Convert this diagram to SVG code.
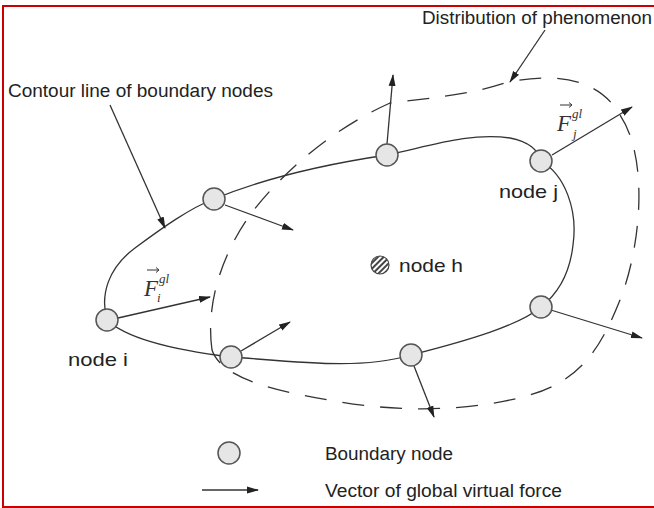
<svg xmlns="http://www.w3.org/2000/svg" width="654" height="508" viewBox="0 0 654 508">
<style>
.t{font-family:"Liberation Sans",Arial,sans-serif;font-size:18px;fill:#222}
.nl{font-family:"Liberation Sans",Arial,sans-serif;font-size:19px;fill:#222}
.n{fill:#e6e6e6;stroke:#555;stroke-width:1.5}
.c{fill:none;stroke:#333;stroke-width:1.3}
.d{fill:none;stroke:#333;stroke-width:1.3;stroke-dasharray:22 16}
.a{fill:none;stroke:#333;stroke-width:1.3;marker-end:url(#ah)}
.f{font-family:"Liberation Serif","Times New Roman",serif;font-style:italic;fill:#333}
</style>
<defs>
<marker id="ah" markerWidth="12" markerHeight="8" refX="11" refY="4" orient="auto" markerUnits="userSpaceOnUse">
<path d="M0,0.5 L12,4 L0,7.5 Z" fill="#222"/>
</marker>
<pattern id="hatch" width="4" height="4" patternUnits="userSpaceOnUse" patternTransform="rotate(45)">
<rect width="4" height="4" fill="#fff"/>
<rect width="2" height="4" fill="#444"/>
</pattern>
</defs>
<rect width="654" height="508" fill="#fff"/>
<path d="M3,508 V6 H654 M3,507 H654" fill="none" stroke="#cc0000" stroke-width="2"/>

<g id="connectors">
<path class="c" d="M107,320 C100,295 108,268 135,248 S190,208 214,199 C260,180 320,165 387,155 C430,146 470,132 510,138 C530,142 538,150 541,161 C565,175 578,210 573,245 C570,272 560,292 541,307 C520,325 470,340 411,355 C360,370 300,362 231,357 C190,352 130,342 107,320"/>
<path class="d" d="M212,350 C205,300 225,250 250,215 C280,175 330,130 390,103 C430,98 470,95 508,82 C560,72 600,80 620,115 C650,160 640,250 620,300 C600,350 580,380 530,395 C470,412 400,412 340,402 C280,392 222,380 212,350 Z"/>
<path class="a" d="M118,318 L210,297"/>
<path class="a" d="M225,205 L293,230"/>
<path class="a" d="M387,144 L393,75"/>
<path class="a" d="M552,155 L632,107"/>
<path class="a" d="M541,307 L642,338"/>
<path class="a" d="M414,366 L434,417"/>
<path class="a" d="M241,351 L290,322"/>
<path class="a" d="M110,105 L165,228"/>
<path class="a" d="M545,30 L510,82"/>
<path class="a" d="M202,490 L258,490"/>
</g>

<g id="node-i"><circle class="n" cx="107" cy="320" r="11"/><text class="nl" x="68" y="366" textLength="60" lengthAdjust="spacingAndGlyphs">node i</text></g>
<g id="node-b1"><circle class="n" cx="214" cy="199" r="11"/></g>
<g id="node-b2"><circle class="n" cx="387" cy="155" r="11"/></g>
<g id="node-j"><circle class="n" cx="541" cy="161" r="11"/><text class="nl" x="499" y="198" textLength="59" lengthAdjust="spacingAndGlyphs">node j</text></g>
<g id="node-b3"><circle class="n" cx="541" cy="307" r="11"/></g>
<g id="node-b4"><circle class="n" cx="411" cy="355" r="11"/></g>
<g id="node-b5"><circle class="n" cx="231" cy="357" r="11"/></g>
<g id="node-h"><circle cx="380" cy="265" r="9" fill="url(#hatch)" stroke="#444" stroke-width="1.2"/><text class="nl" x="399" y="272" textLength="64" lengthAdjust="spacingAndGlyphs">node h</text></g>

<g id="label-fi">
<text class="f" x="144" y="296" font-size="23">F</text>
<text class="f" x="159" y="283" font-size="13">gl</text>
<text class="f" x="157" y="302" font-size="13">i</text>
<path d="M147,270 H159 M156,267.5 L159,270 L156,272.5" fill="none" stroke="#333" stroke-width="1"/>
</g>
<g id="label-fj">
<text class="f" x="557" y="131" font-size="23">F</text>
<text class="f" x="572" y="118" font-size="13">gl</text>
<text class="f" x="573" y="138" font-size="13">j</text>
<path d="M560,105 H572 M569,102.5 L572,105 L569,107.5" fill="none" stroke="#333" stroke-width="1"/>
</g>

<g id="title-contour"><text class="t" x="8" y="97" textLength="265" lengthAdjust="spacingAndGlyphs">Contour line of boundary nodes</text></g>
<g id="title-distribution"><text class="t" x="422" y="24" textLength="230" lengthAdjust="spacingAndGlyphs">Distribution of phenomenon</text></g>

<g id="legend">
<circle class="n" cx="229" cy="453" r="11"/>
<text class="t" x="325" y="460" textLength="128" lengthAdjust="spacingAndGlyphs">Boundary node</text>
<text class="t" x="325" y="497" textLength="237" lengthAdjust="spacingAndGlyphs">Vector of global virtual force</text>
</g>
</svg>
